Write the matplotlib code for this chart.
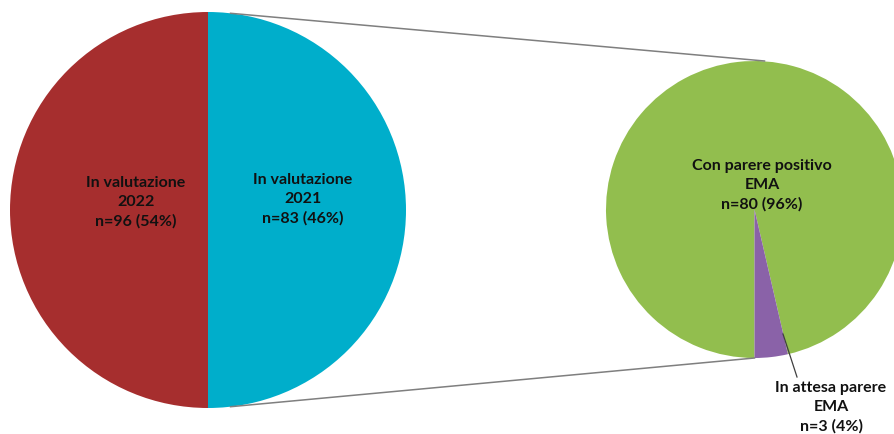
import numpy as np
import matplotlib.pyplot as plt

# dati
left_labels = ["In valutazione\n2022\nn=96 (54%)", "In valutazione\n2021\nn=83 (46%)"]
left_counts = [96, 83]
left_split = [50, 50]          # come appare nel grafico: divisione verticale
right_labels = ["Con parere positivo\nEMA\nn=80 (96%)", "In attesa parere\nEMA\nn=3 (4%)"]
right_counts = [80, 3]

left_colors = ["#A62E2E", "#00AECB"]
right_colors = ["#92BE4E", "#8A62A8"]

plt.rcParams['font.family'] = ['Lato', 'DejaVu Sans']

W, H = 894, 435
fig = plt.figure(figsize=(W / 100, H / 100), dpi=100)
ax = fig.add_axes([0, 0, 1, 1])

c1 = (208, H - 211)
r1 = 198
c2 = (754.5, H - 210.5)
r2 = 148.5

ax.pie(left_split, colors=left_colors, startangle=90, center=c1, radius=r1,
       wedgeprops=dict(linewidth=0), frame=True)
start2 = 270 - 360 * right_counts[0] / sum(right_counts)
ax.pie(right_counts, colors=right_colors, startangle=start2, center=c2, radius=r2,
       wedgeprops=dict(linewidth=0), frame=True)
ax.set_xlim(0, W)
ax.set_ylim(0, H)
ax.set_aspect('equal')
ax.axis('off')

# linee di collegamento
ang = np.deg2rad(180 * left_counts[1] / sum(left_counts))
p_top = (c1[0] + r1 * np.cos(ang), c1[1] + r1 * np.sin(ang))
p_bot = (c1[0] + r1 * np.cos(ang), c1[1] - r1 * np.sin(ang))
ax.plot([p_top[0], c2[0] + 10], [p_top[1], c2[1] + r2], color="#7f7f7f", lw=1.1)
ax.plot([p_bot[0], c2[0]], [p_bot[1], c2[1] - r2], color="#7f7f7f", lw=1.1)

fs = 11.5
ls = 1.45
ax.text(136, H - 202, left_labels[0], ha='center', va='center', fontsize=fs,
        fontweight='bold', linespacing=ls, color="#111111")
ax.text(303, H - 199, left_labels[1], ha='center', va='center', fontsize=fs,
        fontweight='bold', linespacing=ls, color="#111111")
ax.text(762, H - 185, right_labels[0], ha='center', va='center', fontsize=fs,
        fontweight='bold', linespacing=ls, color="#111111")
ax.text(831, H - 407, right_labels[1], ha='center', va='center', fontsize=fs,
        fontweight='bold', linespacing=ls, color="#111111")
ax.plot([783, 797], [H - 335, H - 378], color="#404040", lw=0.9)

fig.savefig("out.png", dpi=100)
